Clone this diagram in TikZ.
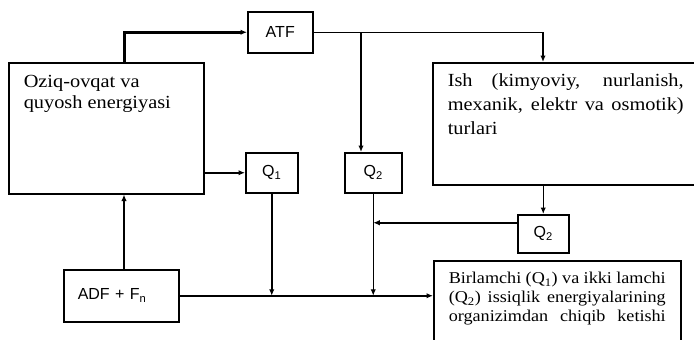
\documentclass[tikz,border=0pt]{standalone}
\usepackage{fontspec}
\setmainfont{Liberation Serif}[FakeStretch=1.1]
\setsansfont{Liberation Sans}
\usetikzlibrary{arrows.meta, positioning, calc}

\begin{document}
\begin{tikzpicture}[
    x=1pt, y=-1pt,
    box/.style={rectangle, draw, line width=1.5pt, inner sep=0pt, anchor=north west},
    lbl/.style={box, font=\sffamily\fontsize{16}{18}\selectfont},
    txt/.style={box, align=left},
    arrow/.style={-{Latex[length=6.5pt, width=5.5pt]}, line width=1.5pt},
]
\useasboundingbox (0,0) rectangle (694,340);
\clip (0,0) rectangle (694,340);

% Nodes
\node[txt, inner xsep=15pt, inner ysep=12.5pt, font=\fontsize{18.5}{21}\selectfont] (food) at (8,62)
    {\parbox[t][106pt][t]{165pt}{Oziq-ovqat va\\quyosh energiyasi}};
\node[lbl, minimum width=65pt, minimum height=41pt] (atf) at (247,11) {ATF};
\node[txt, inner xsep=15pt, inner ysep=11pt, font=\fontsize{18.5}{24}\selectfont] (work) at (432,62)
    {\parbox[t][100pt][t]{236pt}{Ish (kimyoviy, nurlanish,\linebreak mexanik, elektr va osmotik)\linebreak turlari}};
\node[lbl, minimum width=52pt, minimum height=40pt] (q1) at (245,152) {Q\textsubscript{1}};
\node[lbl, minimum width=57pt, minimum height=40pt] (q2a) at (344,152) {Q\textsubscript{2}};
\node[lbl, minimum width=51pt, minimum height=38pt] (q2b) at (517,214) {Q\textsubscript{2}};
\node[lbl, inner xsep=14pt, text width=87pt, minimum height=52pt, align=left] (adf) at (63,269) {ADF + F\textsubscript{n}\\[3pt]};
\node[txt, inner xsep=15pt, inner ysep=11.5pt, font=\fontsize{16.5}{19}\selectfont] (out) at (433,260)
    {\parbox[t][90pt][t]{217pt}{\parfillskip=0pt Birlamchi (Q\textsubscript{1}) va ikki lamchi\linebreak (Q\textsubscript{2}) issiqlik energiyalarining\linebreak organizimdan chiqib ketishi}};

\coordinate (tap) at ([xshift=17pt]q2a.north west);

% Arrows
\draw[arrow, line width=3pt] ([xshift=116pt]food.north west) |- (atf.west);
\draw[arrow] (atf.east) -| ([xshift=111pt]work.north west);
\draw[arrow] (tap |- atf.east) -- (tap);
\draw[arrow] (food.east |- q1.west) -- (q1.west);
\draw[arrow] (q1.south) -- (q1.south |- adf.east);
\draw[arrow] ([xshift=61pt]adf.north west) -- ([xshift=61pt]adf.north west |- food.south);
\draw[arrow] (adf.east) -- (adf.east -| out.west);
\draw[arrow] (q2a.south) -- (q2a.south |- adf.east);
\draw[arrow] (work.south -| q2b.north) -- (q2b.north);
\draw[arrow] ([yshift=11pt]q2b.west) -- ([yshift=11pt]q2b.west -| q2a.south);

\end{tikzpicture}
\end{document}
